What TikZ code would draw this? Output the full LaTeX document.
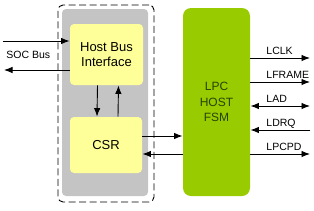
\documentclass[tikz,border=0pt]{standalone}
\usepackage{fontspec}
\setmainfont{Liberation Sans}
\usepackage{xcolor}
\usetikzlibrary{arrows.meta,positioning,calc}

\definecolor{boxgray}{HTML}{C4C4C4}
\definecolor{hostyellow}{HTML}{FFFF99}
\definecolor{fsmgreen}{HTML}{99CC00}
\definecolor{fsmtext}{HTML}{264400}

\begin{document}
\begin{tikzpicture}[x=1pt, y=-1pt, >={Latex[length=8.5pt,width=6.5pt]}, line width=0.9pt,
  blk/.style={rounded corners=4pt, inner sep=0pt, align=center, font=\fontsize{13}{15}\selectfont},
  lbl/.style={inner sep=0pt, font=\fontsize{10.5}{12}\selectfont}]
\useasboundingbox (0,0) rectangle (314,210);

% host side
\node[draw, dash pattern=on 7pt off 3.5pt, rounded corners=5pt, minimum width=96pt, minimum height=197pt] (outer) at (106,103.5) {};
\node[fill=boxgray, rounded corners=4pt, minimum width=86pt, minimum height=187pt] (core) at (105,102.5) {};
\node[blk, fill=hostyellow, minimum width=73pt, minimum height=61pt] (hbi) at (106.5,54.5) {Host Bus\\Interface};
\node[blk, fill=hostyellow, minimum width=72pt, minimum height=56pt] (csr) at (106,145) {CSR};

% fsm
\node[blk, fill=fsmgreen, rounded corners=8pt, minimum width=67pt, minimum height=188pt,
  text=fsmtext, font=\fontsize{12}{15.5}\selectfont] (fsm) at (216.5,102) {LPC\\HOST\\FSM};

% soc bus
\coordinate (socin) at (3,41);
\coordinate (socout) at (4,70);
\draw[->] (socin) -- (socin -| hbi.west);
\draw[->] (socout -| hbi.west) -- (socout);
\node[lbl, anchor=base west] (soclbl) at (6,58) {SOC Bus};

\draw[->] ([xshift=-9pt]hbi.south) -- ([xshift=-9pt]csr.north);
\draw[->] ([xshift=12pt]csr.north) -- ([xshift=12pt]hbi.south);

\draw[->] ([yshift=9pt]csr.east) -- ([yshift=9pt]csr.east -| fsm.west);
\draw[->] ([yshift=-9pt]csr.east -| fsm.west) -- ([yshift=-9pt]csr.east);

% lpc signals
\coordinate (lclk) at (310,58);
\coordinate (lframe) at (310,82);
\coordinate (lad) at (310,106);
\coordinate (ldrq) at (310,130);
\coordinate (lpcpd) at (310,154);
\draw[->] (lclk -| fsm.east) -- (lclk);
\draw[->] (lframe -| fsm.east) -- (lframe);
\draw[<->] (lad -| fsm.east) -- (lad);
\draw[->] (ldrq) -- (ldrq -| fsm.east);
\draw[->] (lpcpd -| fsm.east) -- (lpcpd);
\node[lbl, anchor=base west] (lclkl) at (266,54) {LCLK};
\node[lbl, anchor=base west] (lframel) at (266,78) {LFRAME};
\node[lbl, anchor=base west] (ladl) at (266,102) {LAD};
\node[lbl, anchor=base west] (ldrql) at (266,126) {LDRQ};
\node[lbl, anchor=base west] (lpcpdl) at (266,150) {LPCPD};
\end{tikzpicture}
\end{document}
